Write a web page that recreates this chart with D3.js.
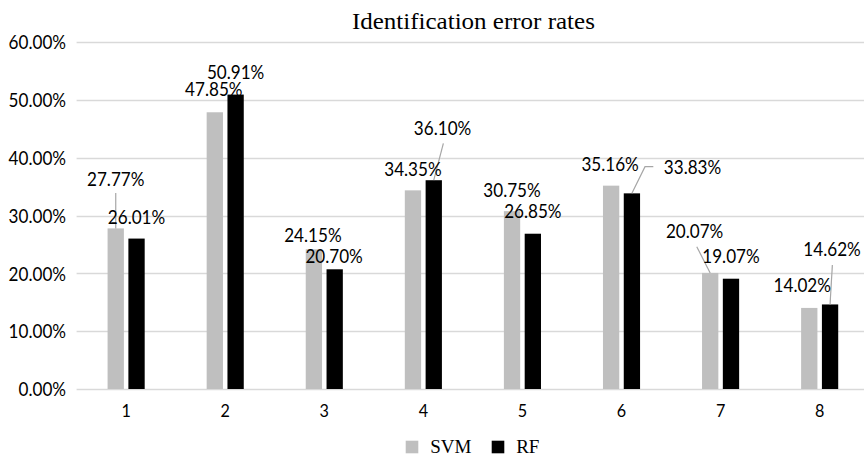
<!DOCTYPE html>
<html>
<head>
<meta charset="utf-8">
<script src="https://cdn.jsdelivr.net/npm/d3@7"></script>
<style>
  html, body { margin: 0; padding: 0; background: #fff; }
  svg { display: block; }
</style>
</head>
<body>
<svg id="chart" width="864" height="457"></svg>
<script>
// Identification error rates (%) per test set
const categories = ['1', '2', '3', '4', '5', '6', '7', '8'];
const svmRates = [27.77, 47.85, 24.15, 34.35, 30.75, 35.16, 20.07, 14.02];
const rfRates  = [26.01, 50.91, 20.70, 36.10, 26.85, 33.83, 19.07, 14.62];
const seriesNames = ['SVM', 'RF'];
const yTicks = [0, 10, 20, 30, 40, 50, 60];
const titleText = 'Identification error rates';

// Label placement relative to the top centre of each bar (px)
const svmLabelShift = [[0, -42], [-1, -16], [-1, -7], [0, -14], [0, -14.5], [-1, -15], [-15.6, -34.6], [-7, -16]];
const rfLabelShift  = [[0, -14.6], [0, -15.3], [-0.6, -6], [8.8, -45.2], [0, -15.4], [60.6, -19.1], [0, -15.4], [2, -48.5]];
// Leader lines: list of points relative to bar top centre, ending at the bar
const svmLeaders = { 0: [[0, -35.4], [0, 0]], 6: [[-13.4, -26.2], [0, 0]] };
const rfLeaders  = { 3: [[9.6, -36.9], [0, 0]], 5: [[21.4, -26.7], [13.1, -26.7], [0, 0]], 7: [[2.3, -39.5], [0, 0]] };

const colors = { SVM: '#bfbfbf', RF: '#000000' };
const numFont = 'Lato, "Open Sans", sans-serif';
const numSize = 18.5;
const serifFont = '"Liberation Serif", "Times New Roman", serif';

const svg = d3.select('#chart');

const x = d3.scaleBand().domain(categories).range([76.6, 869.2]);
const y = d3.scaleLinear().domain([0, 60]).range([389, 42]);
const barW = 16.3, barShift = 10.4;
const cx = (c, s) => x(c) + x.bandwidth() / 2 + (s === 0 ? -barShift : barShift);

// gridlines
svg.append('g').selectAll('line').data(yTicks).join('line')
  .attr('x1', 76.6).attr('x2', 864)
  .attr('y1', d => Math.round(y(d)) + 0.5).attr('y2', d => Math.round(y(d)) + 0.5)
  .attr('stroke', '#d9d9d9').attr('stroke-width', 1.3);

// y axis labels
const yAxis = svg.append('g').attr('transform', 'translate(66,0)')
  .call(d3.axisLeft(y).tickValues(yTicks).tickSize(0).tickPadding(0)
    .tickFormat(d => d.toFixed(2) + '%'));
yAxis.select('.domain').remove();
yAxis.selectAll('text')
  .attr('font-family', numFont).attr('font-size', numSize).attr('fill', '#000')
  .attr('dy', '0.36em').attr('class', 'num');

// x axis labels
const xAxis = svg.append('g').attr('transform', 'translate(0,389)')
  .call(d3.axisBottom(x).tickSize(0).tickPadding(0));
xAxis.select('.domain').remove();
xAxis.selectAll('text')
  .attr('font-family', numFont).attr('font-size', 17.5).attr('fill', '#000')
  .attr('y', 28.3).attr('dy', 0).attr('class', 'num');

// bars
const series = [svmRates, rfRates];
series.forEach((vals, s) => {
  svg.append('g').selectAll('rect').data(vals).join('rect')
    .attr('x', (d, i) => cx(categories[i], s) - barW / 2)
    .attr('width', barW)
    .attr('y', d => y(d))
    .attr('height', d => y(0) - y(d))
    .attr('fill', colors[seriesNames[s]]);
});

// leader lines
[svmLeaders, rfLeaders].forEach((leaders, s) => {
  const vals = series[s];
  Object.entries(leaders).forEach(([i, pts]) => {
    const bx = cx(categories[+i], s), by = y(vals[+i]);
    svg.append('path')
      .attr('d', d3.line()(pts.map(p => [bx + p[0], by + p[1]])))
      .attr('fill', 'none').attr('stroke', '#a6a6a6').attr('stroke-width', 1.2);
  });
});

// value labels
[svmLabelShift, rfLabelShift].forEach((shift, s) => {
  const vals = series[s];
  svg.append('g').selectAll('text').data(vals).join('text')
    .attr('class', 'num')
    .attr('x', (d, i) => cx(categories[i], s) + shift[i][0])
    .attr('y', (d, i) => y(d) + shift[i][1])
    .attr('text-anchor', 'middle')
    .attr('font-family', numFont).attr('font-size', numSize).attr('fill', '#000')
    .text(d => d.toFixed(2) + '%');
});

// narrow the numeric face a little so its proportions read like a condensed sans
const probe = svg.append('text').attr('font-family', numFont).attr('font-size', numSize).text('60.00%');
const k = 57.4 / probe.node().getComputedTextLength();
probe.remove();
svg.selectAll('text.num').each(function () {
  const w = this.getComputedTextLength();
  d3.select(this).attr('textLength', w * k).attr('lengthAdjust', 'spacingAndGlyphs');
});

// title
svg.append('text')
  .attr('x', 473.4).attr('y', 29.3).attr('text-anchor', 'middle')
  .attr('font-family', serifFont).attr('font-size', 23.5).attr('fill', '#000')
  .attr('textLength', 243).attr('lengthAdjust', 'spacingAndGlyphs')
  .text(titleText);

// legend
const legendX = [405.7, 491.7];
seriesNames.forEach((name, s) => {
  svg.append('rect').attr('x', legendX[s]).attr('y', 440.7)
    .attr('width', 12.6).attr('height', 12.6).attr('fill', colors[name]);
  svg.append('text').attr('x', legendX[s] + 24.5).attr('y', 453.3)
    .attr('font-family', serifFont).attr('font-size', 19).attr('fill', '#000')
    .text(name);
});
</script>
</body>
</html>
